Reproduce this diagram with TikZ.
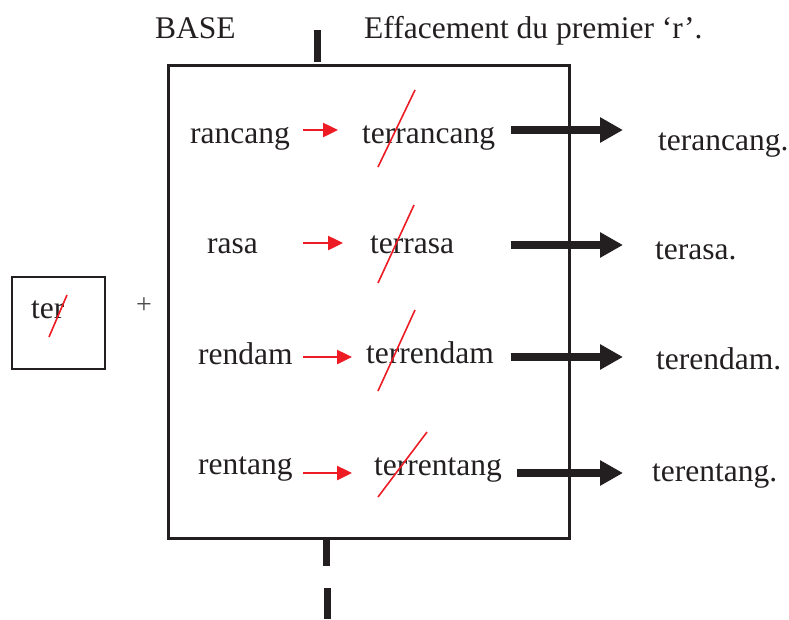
\documentclass[tikz,border=0pt]{standalone}
\usepackage{fontspec}
\setmainfont{Liberation Serif}
\usetikzlibrary{arrows.meta}
\definecolor{strikered}{RGB}{237,28,36}
\definecolor{ink}{RGB}{35,31,32}
\begin{document}
\begin{tikzpicture}[x=1pt,y=-1pt,
  word/.style={anchor=base west,inner sep=0pt,text=ink,font=\fontsize{31.5}{36}\selectfont},
  redarrow/.style={draw=strikered,line width=2.5pt,-{Triangle[length=15pt,width=14pt]}},
  blackarrow/.style={draw=ink,line width=8pt,-{Triangle[length=23pt,width=24pt]}},
  strike/.style={draw=strikered,line width=1.6pt},
  frame/.style={draw=ink,line width=3pt},
  cut/.style={draw=ink,line width=7pt}]
\useasboundingbox (0,0) rectangle (789,619);
% headers
\node[word] (base) at (155,38) {BASE};
\node[word] (eff) at (364,38) {Effacement du premier ‘r’.};
% dashed cut line
\draw[cut] (317,30) -- (317,62);
\draw[cut] (326,540) -- (326,566);
\draw[cut] (327,588) -- (327,619);
% main frame
\draw[frame] (168,65) rectangle (569,538);
% left box
\draw[line width=1.5pt,draw=ink] (12,277) rectangle (105,369);
\node[word] (ter) at (31,318) {ter};
\draw[strike] (67,295) -- (49,337);
\node[word,font=\fontsize{28}{30}\selectfont,text=ink!80] (plus) at (136,313) {+};
% row 1
\node[word] (b1) at (190,143) {rancang};
\node[word] (m1) at (362,143) {terrancang};
\node[word] (r1) at (658,150) {terancang.};
\coordinate (a1s) at (303,130); \coordinate (a1e) at (338,130);
\coordinate (k1s) at (511,130); \coordinate (k1e) at (623,130);
\draw[redarrow] (a1s) -- (a1e);
\draw[blackarrow] (k1s) -- (k1e);
\draw[strike] (415,90) -- (378,167);
% row 2
\node[word] (b2) at (207,253) {rasa};
\node[word] (m2) at (370,253) {terrasa};
\node[word] (r2) at (655,259) {terasa.};
\coordinate (a2s) at (303,243); \coordinate (a2e) at (343,243);
\coordinate (k2s) at (511,245); \coordinate (k2e) at (623,245);
\draw[redarrow] (a2s) -- (a2e);
\draw[blackarrow] (k2s) -- (k2e);
\draw[strike] (414,205) -- (378,283);
% row 3
\node[word] (b3) at (198,364) {rendam};
\node[word] (m3) at (366,363) {terrendam};
\node[word] (r3) at (656,369) {terendam.};
\coordinate (a3s) at (303,357); \coordinate (a3e) at (352,357);
\coordinate (k3s) at (511,357); \coordinate (k3e) at (623,357);
\draw[redarrow] (a3s) -- (a3e);
\draw[blackarrow] (k3s) -- (k3e);
\draw[strike] (415,310) -- (378,391);
% row 4
\node[word] (b4) at (198,474) {rentang};
\node[word] (m4) at (374,475) {terrentang};
\node[word] (r4) at (652,481) {terentang.};
\coordinate (a4s) at (303,473); \coordinate (a4e) at (352,473);
\coordinate (k4s) at (517,473); \coordinate (k4e) at (623,473);
\draw[redarrow] (a4s) -- (a4e);
\draw[blackarrow] (k4s) -- (k4e);
\draw[strike] (427,432) -- (378,497);
\end{tikzpicture}
\end{document}
